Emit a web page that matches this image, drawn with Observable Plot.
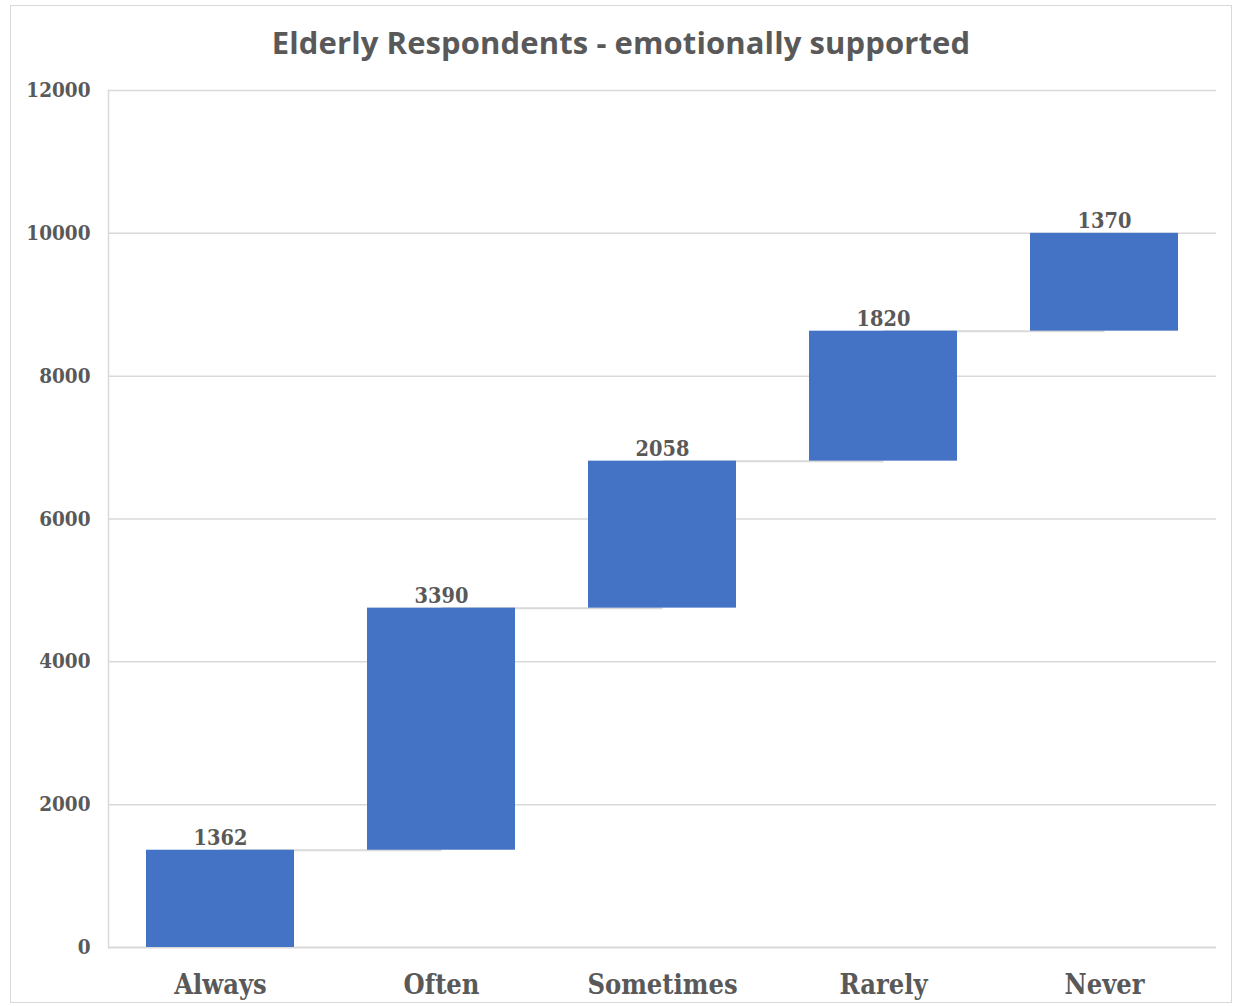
<!DOCTYPE html>
<html>
<head>
<meta charset="utf-8">
<script src="https://cdn.jsdelivr.net/npm/d3@7"></script>
<script src="https://cdn.jsdelivr.net/npm/@observablehq/plot@0.6"></script>
<style>
  body { margin: 0; background: #fff; }
  #wrap { position: relative; width: 1235px; height: 1006px; overflow: hidden; }
  #border { position: absolute; left: 10px; top: 5px; width: 1220px; height: 996px; border: 1.5px solid #d9d9d9; }
  #title { position: absolute; left: 10px; width: 1222px; top: 21px; text-align: center;
           font-family: "Open Sans", sans-serif; font-weight: 700; font-size: 31px; color: #595959; letter-spacing: 0.1px; }
  #chart { position: absolute; left: 0; top: 0; }
</style>
</head>
<body>
<div id="wrap">
  <div id="border"></div>
  <div id="chart"></div>
  <div id="title">Elderly Respondents - emotionally supported</div>
</div>
<script>
const categories = ["Always", "Often", "Sometimes", "Rarely", "Never"];
const values = [1362, 3390, 2058, 1820, 1370];
const yTicks = [0, 2000, 4000, 6000, 8000, 10000, 12000];

// waterfall table
let acc = 0;
const data = categories.map((c, i) => {
  const start = acc;
  acc += values[i];
  return {cat: c, value: values[i], start, end: acc};
});
const connectors = data.slice(0, -1).map((d, i) => ({from: d.cat, to: data[i + 1].cat, level: d.end}));

const textColor = "#595959";
const gridColor = "#d9d9d9";
const slab = "'DejaVu Serif Condensed', 'DejaVu Serif', serif";

const chart = Plot.plot({
  width: 1235,
  height: 1006,
  marginTop: 90,
  marginBottom: 59,
  marginLeft: 108,
  marginRight: 19,
  style: {fontFamily: slab, background: "transparent"},
  x: {domain: categories, paddingInner: 0.332, paddingOuter: 0.166},
  y: {domain: [0, 12000], ticks: yTicks},
  marks: [
    Plot.gridY(yTicks.filter(t => t > 0), {stroke: gridColor, strokeOpacity: 1, strokeWidth: 1.5}),
    Plot.frame({anchor: "left", stroke: gridColor, strokeWidth: 1.5}),
    Plot.ruleY([0], {stroke: gridColor, strokeWidth: 2}),
    Plot.link(connectors, {x1: "from", x2: "to", y1: "level", y2: "level", stroke: gridColor, strokeWidth: 2}),
    Plot.barY(data, {x: "cat", y1: "start", y2: "end", fill: "#4472C4"}),
    Plot.text(data, {x: "cat", y: "end", text: d => String(d.value), dy: -5, lineAnchor: "bottom",
                     fontSize: 21.5, fontWeight: "bold", fill: textColor, fontFamily: slab}),
    Plot.axisY({ticks: yTicks, tickSize: 0, tickPadding: 18, tickFormat: d => String(d), label: null,
                fontSize: 20.5, fontWeight: "bold", fill: textColor, fontFamily: slab}),
    Plot.axisX({tickSize: 0, tickPadding: 27, label: null,
                fontSize: 27, fontWeight: "bold", fill: textColor, fontFamily: slab})
  ]
});
document.getElementById("chart").appendChild(chart);
</script>
</body>
</html>
